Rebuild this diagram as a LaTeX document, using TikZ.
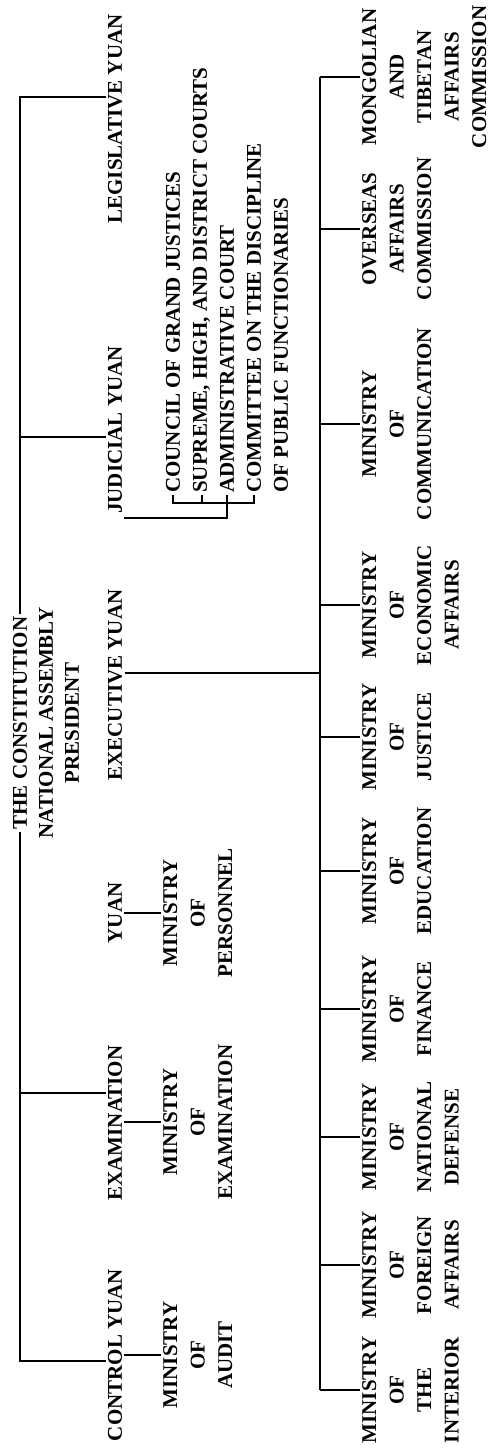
\documentclass[tikz,border=0pt]{standalone}
\usepackage{fontspec}
\setmainfont{Liberation Serif}
\usepackage{tikz}
\usetikzlibrary{positioning}
\newcommand{\chartfont}{\fontsize{21}{27.5}\selectfont\bfseries}

\begin{document}
\begin{tikzpicture}[
  x=1pt, y=1pt,
  rotate=90, transform shape,
  lbl/.style={inner sep=2pt,font=\chartfont,anchor=base},
  list/.style={lbl,anchor=base west},
  block/.style={lbl,align=center,anchor=north},
  line/.style={line width=1.8pt}
]
\useasboundingbox (0,0) rectangle (1450,492);
\node[lbl] (const) at (727,465) {THE CONSTITUTION};
\node[lbl] (assembly) at (727,439) {NATIONAL ASSEMBLY};
\node[lbl] (president) at (727,413) {PRESIDENT};
\node[lbl] (control) at (95,370) {CONTROL YUAN};
\node[lbl] (exam) at (327,370) {EXAMINATION};
\node[lbl] (examyuan) at (537,370) {YUAN};
\node[lbl] (exec) at (765,370) {EXECUTIVE YUAN};
\node[lbl] (judicial) at (1020,370) {JUDICIAL YUAN};
\node[lbl] (legis) at (1331,370) {LEGISLATIVE YUAN};
\node[block] (audit) at (95,331) {MINISTRY\\OF\\AUDIT};
\node[block] (examin) at (328,331) {MINISTRY\\OF\\EXAMINATION};
\node[block] (personnel) at (537,331) {MINISTRY\\OF\\PERSONNEL};
\node[list] (council) at (955,312) {COUNCIL OF GRAND JUSTICES};
\node[list] (courts) at (955,285) {SUPREME, HIGH, AND DISTRICT COURTS};
\node[list] (admin) at (955,258) {ADMINISTRATIVE COURT};
\node[list] (committee) at (955,231) {COMMITTEE ON THE DISCIPLINE};
\node[list] (publicf) at (955,204) {OF PUBLIC FUNCTIONARIES};
\node[block] (interior) at (60,132) {MINISTRY\\OF\\THE\\INTERIOR};
\node[block] (foreign) at (185,132) {MINISTRY\\OF\\FOREIGN\\AFFAIRS};
\node[block] (defense) at (313,132) {MINISTRY\\OF\\NATIONAL\\DEFENSE};
\node[block] (finance) at (441,132) {MINISTRY\\OF\\FINANCE};
\node[block] (education) at (579,132) {MINISTRY\\OF\\EDUCATION};
\node[block] (justice) at (713,132) {MINISTRY\\OF\\JUSTICE};
\node[block] (economic) at (845,132) {MINISTRY\\OF\\ECONOMIC\\AFFAIRS};
\node[block] (communication) at (1026,132) {MINISTRY\\OF\\COMMUNICATION};
\node[block] (overseas) at (1221,132) {OVERSEAS\\AFFAIRS\\COMMISSION};
\node[block] (mongolian) at (1373,132) {MONGOLIAN\\AND\\TIBETAN\\AFFAIRS\\COMMISSION};
\coordinate (ctlx) at (89,0);
\coordinate (exax) at (357,0);
\coordinate (exex) at (777,0);
\coordinate (judx) at (1013,0);
\coordinate (legx) at (1353,0);
\coordinate (brkx) at (947,0);
\coordinate (jdrop) at (932,0);
\coordinate (mbar) at (0,172);
\draw[line] (const.west) -| (ctlx |- control.north);
\draw[line] (const.east) -| (legx |- legis.north);
\draw[line] (exax |- const.west) -- (exax |- exam.north);
\draw[line] (judx |- const.east) -- (judx |- judicial.north);
\draw[line] (control.south -| audit.north) -- (audit.north);
\draw[line] (exam.south -| examin.north) -- (examin.north);
\draw[line] (examyuan.south -| personnel.north) -- (personnel.north);
\draw[line] (council.west) -- (brkx |- council.west) -- (brkx |- committee.west) -- (committee.west);
\draw[line] (courts.west) -- (brkx |- courts.west);
\draw[line] (admin.west) -- (brkx |- admin.west);
\draw[line] (jdrop |- judicial.south) |- (brkx |- admin.west);
\draw[line] (exex |- exec.south) -- (exex |- mbar);
\draw[line] (interior.north |- mbar) -- (mongolian.north |- mbar);
\draw[line] (interior.north |- mbar) -- (interior.north);
\draw[line] (foreign.north |- mbar) -- (foreign.north);
\draw[line] (defense.north |- mbar) -- (defense.north);
\draw[line] (finance.north |- mbar) -- (finance.north);
\draw[line] (education.north |- mbar) -- (education.north);
\draw[line] (justice.north |- mbar) -- (justice.north);
\draw[line] (economic.north |- mbar) -- (economic.north);
\draw[line] (communication.north |- mbar) -- (communication.north);
\draw[line] (overseas.north |- mbar) -- (overseas.north);
\draw[line] (mongolian.north |- mbar) -- (mongolian.north);
\end{tikzpicture}
\end{document}
